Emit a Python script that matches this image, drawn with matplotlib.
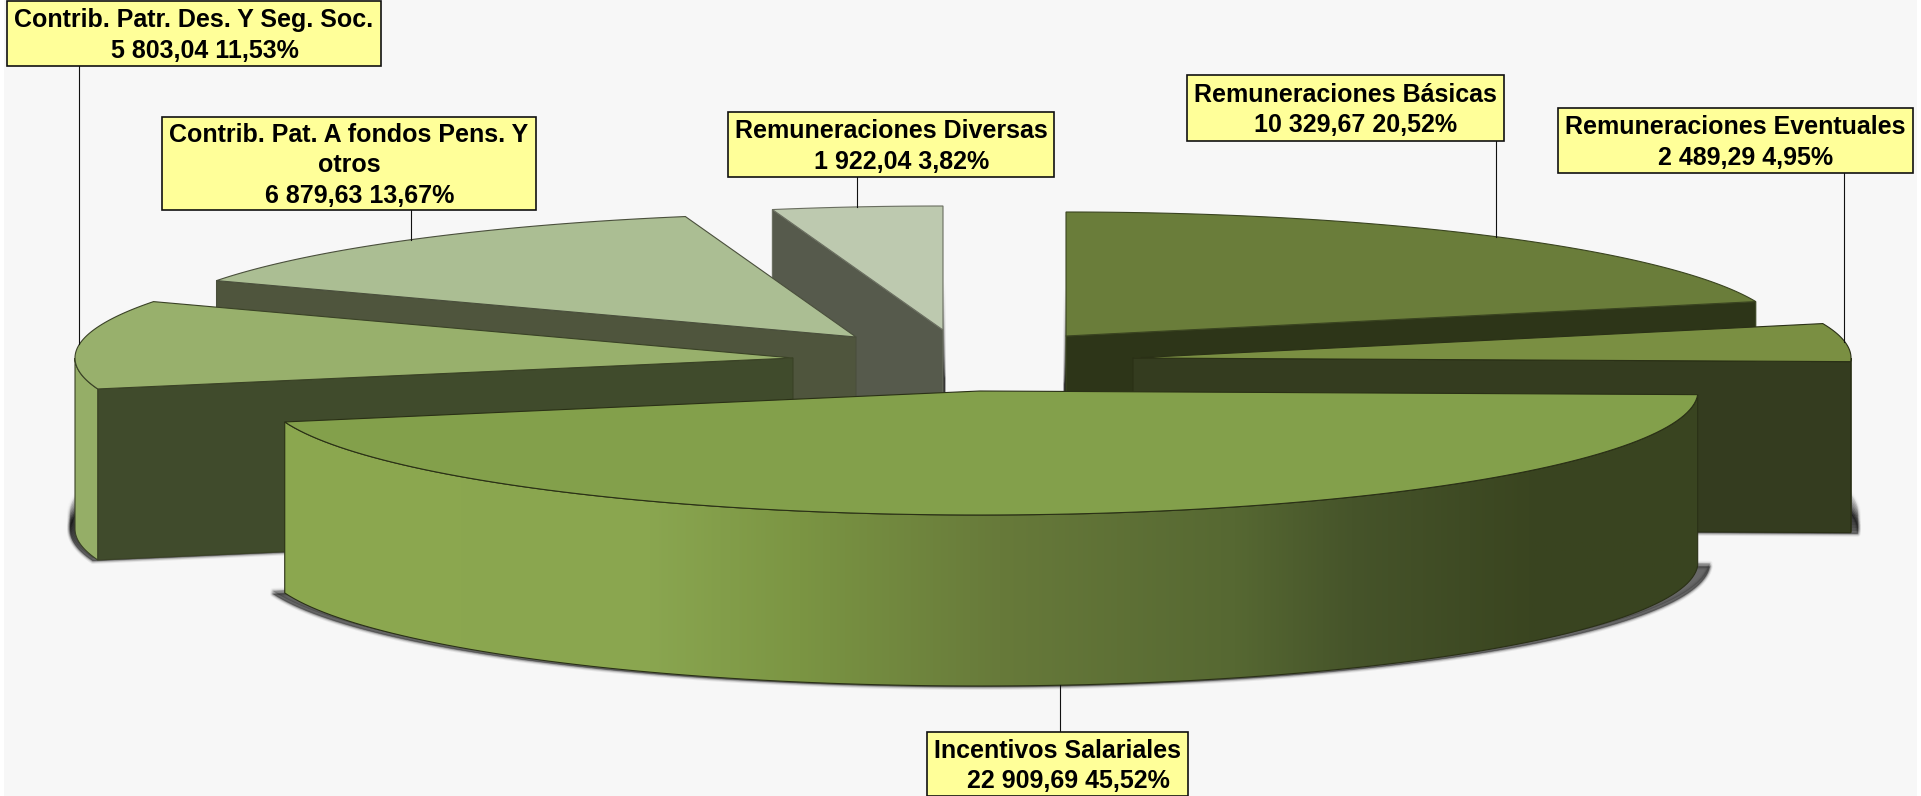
import numpy as np
import matplotlib
matplotlib.use("Agg")
import matplotlib.pyplot as plt
from matplotlib.colors import to_rgb
from matplotlib.patches import Polygon, Rectangle

# data
names = ["Remuneraciones Básicas", "Remuneraciones Eventuales", "Incentivos Salariales",
         "Contrib. Patr. Des. Y Seg. Soc.", "Contrib. Pat. A fondos Pens. Y\notros",
         "Remuneraciones Diversas"]
values = [10329.67, 2489.29, 22909.69, 5803.04, 6879.63, 1922.04]
value_text = ["10 329,67", "2 489,29", "22 909,69", "5 803,04", "6 879,63", "1 922,04"]
pct_text = ["20,52%", "4,95%", "45,52%", "11,53%", "13,67%", "3,82%"]

# pie geometry in image pixels
radius_x = 718
radius_y = 124
depth = 171
apex_x = [1066, 1133, 980, 793, 856, 943]
apex_y = [336, 358, 391, 358, 337, 330]

top_colors = ["#6a7d3a", "#7a8f42", "#83a04b", "#98b06c", "#abbe93", "#bdc9af"]
side_colors = ["#2d3518", "#343c1f", "#394420", "#404b2c", "#4f553d", "#565a4c"]
wall_colors = ["#2d3518", "#343c1f", "#394420", "#95ae67", "#4f553d", "#565a4c"]
edge_colors = ["#3a4420", "#2a3016", "#2a3016", "#3a4226", "#4a4f3c", "#6a6e60"]
shadow_rise = [95, 18, 3, 18, 0, 95]
shadow_grow = [10, 7, 12, 5, 0, 10]
leader_dx = [-2, -1, 0, 0, 0, 0]

# label boxes: left, top, right, bottom
boxes = [(1187, 75, 1504, 141), (1558, 108, 1913, 173), (927, 732, 1188, 796),
         (7, 1, 381, 66), (162, 117, 536, 210), (728, 112, 1054, 177)]

bg_color = "#f7f7f7"
wall_stops_x = [270, 650, 800, 1000, 1235, 1353, 1530, 1700]
wall_stops_c = ["#8ca84f", "#8aa650", "#7b9543", "#677a3a", "#566832", "#46542a", "#3a4520", "#394420"]


def rim(cx, cy, t0, t1, n=120):
    t = np.radians(np.linspace(t0, t1, n))
    return cx + radius_x * np.sin(t), cy - radius_y * np.cos(t)


def gradient_fill(ax, patch, xs, colors, zorder):
    # horizontal colour ramp clipped to a polygon
    grid = np.linspace(xs[0], xs[-1], 600)
    rgb = np.array([to_rgb(c) for c in colors])
    ramp = np.stack([np.interp(grid, xs, rgb[:, i]) for i in range(3)], axis=1)[None, :, :]
    y0, y1 = patch.get_xy()[:, 1].min(), patch.get_xy()[:, 1].max()
    im = ax.imshow(ramp, extent=(xs[0], xs[-1], y1, y0), aspect="auto", zorder=zorder)
    ax.add_patch(patch)
    im.set_clip_path(patch)


fig = plt.figure(figsize=(1921 / 100, 796 / 100), dpi=100, facecolor="white")
ax = fig.add_axes([0, 0, 1, 1])
ax.add_patch(Rectangle((4, 0), 1913, 796, facecolor=bg_color, edgecolor="none", zorder=0))

shares = np.array(values) / sum(values) * 360
ends = np.cumsum(shares)
starts = ends - shares

# back to front
order = [5, 4, 3, 0, 1, 2]
z = 1
for i in order:
    cx, cy = apex_x[i], apex_y[i]
    t0, t1 = starts[i], ends[i]
    rx, ry = rim(cx, cy, t0, t1)
    top = np.column_stack([np.r_[cx, rx], np.r_[cy, ry]])

    # soft shadow round the bottom of the slice
    if shadow_grow[i] > 0:
        low = top.copy()
        low[:, 0] = cx + (low[:, 0] - cx) * (1 + shadow_grow[i] / radius_x)
        for rise in np.arange(0, shadow_rise[i] + 1, 3):
            fade = 1 / (1 + rise / 3)
            for w, a in zip([6, 4, 2.5, 1], [0.08, 0.12, 0.18, 0.25]):
                ax.add_patch(Polygon(low + [0, depth + 1 - rise], closed=True, facecolor="#1c1c1c",
                                     edgecolor="#1c1c1c", lw=w * 0.72, alpha=a * fade,
                                     joinstyle="round", zorder=z))
    z += 1

    # cut faces that can be seen
    for t, px, py in [(t0, rx[0], ry[0]), (t1, rx[-1], ry[-1])]:
        seen = np.sin(np.radians(t)) < -0.01 if t == t0 else np.sin(np.radians(t)) > 0.01
        if seen:
            face = [(cx, cy), (px, py), (px, py + depth), (cx, cy + depth)]
            ax.add_patch(Polygon(face, closed=True, facecolor=side_colors[i],
                                 edgecolor=edge_colors[i], lw=0.8, zorder=z))

    # outer wall, front half only
    w0, w1 = max(t0, 90), min(t1, 270)
    if w1 > w0:
        wx, wy = rim(cx, cy, w0, w1)
        wall = np.column_stack([np.r_[wx, wx[::-1]], np.r_[wy, wy[::-1] + depth]])
        if i == 2:
            gradient_fill(ax, Polygon(wall, closed=True, facecolor="none",
                                      edgecolor=edge_colors[i], lw=0.8, zorder=z + 0.5),
                          wall_stops_x, wall_stops_c, z)
        else:
            ax.add_patch(Polygon(wall, closed=True, facecolor=wall_colors[i],
                                 edgecolor=edge_colors[i], lw=0.8, zorder=z))
    z += 1

    ax.add_patch(Polygon(top, closed=True, facecolor=top_colors[i],
                         edgecolor=edge_colors[i], lw=0.8, zorder=z))
    z += 1

# labels and leader lines
for i in range(len(values)):
    left, up, right, down = boxes[i]
    mid = np.radians((starts[i] + ends[i]) / 2)
    lx = apex_x[i] + radius_x * np.sin(mid) + leader_dx[i]
    ly = apex_y[i] - radius_y * np.cos(mid)
    if i == 2:
        ax.plot([lx, lx], [ly + depth, up], color="#111111", lw=0.8, zorder=50)
    else:
        ax.plot([lx, lx], [down, ly], color="#111111", lw=0.8, zorder=50)
    ax.add_patch(Rectangle((left, up), right - left, down - up, facecolor="#ffff99",
                           edgecolor="#111111", lw=1.2, zorder=51))
    ax.text((left + right) / 2, (up + down) / 2 + 2, f"{names[i]}\n   {value_text[i]} {pct_text[i]}",
            family="Liberation Sans", weight="bold", fontsize=18, color="black", linespacing=1.32,
            ha="center", va="center", multialignment="center", zorder=52)

ax.set_xlim(0, 1921)
ax.set_ylim(796, 0)
ax.axis("off")
fig.savefig("out.png", dpi=100, facecolor="white")
